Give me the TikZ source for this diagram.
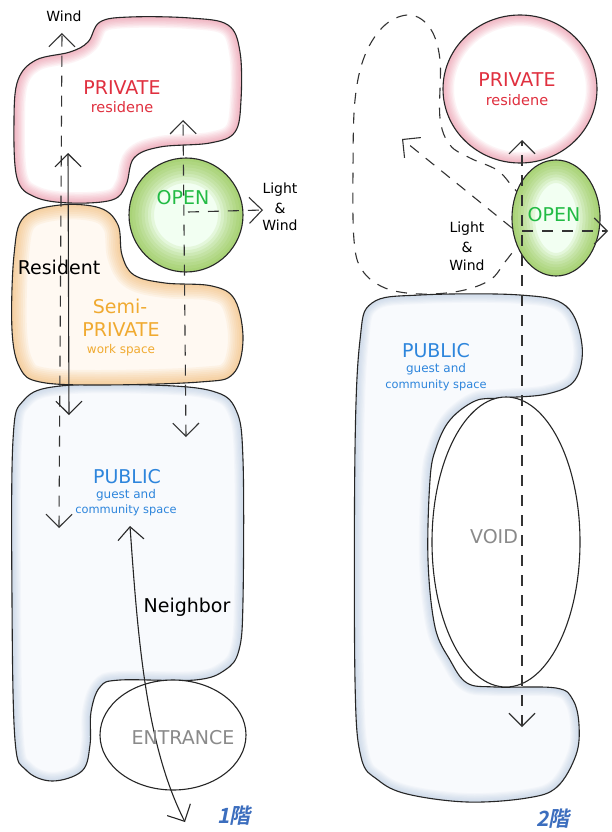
\documentclass[tikz,border=0pt]{standalone}
\usepackage{fontspec}
\setmainfont{DejaVu Sans}
\newfontfamily\jpfont[FakeSlant=0.2,BoldFont={Noto Sans CJK JP Bold}]{Noto Sans CJK JP}
\usetikzlibrary{arrows.meta}

\definecolor{privred}{HTML}{E0303F}
\definecolor{opengreen}{HTML}{22BB44}
\definecolor{semiorange}{HTML}{F0AA30}
\definecolor{pubblue}{HTML}{2D85DC}
\definecolor{voidgray}{HTML}{8A8A8A}
\definecolor{floorblue}{HTML}{3C6EBE}
\definecolor{washpink}{HTML}{E8708A}
\definecolor{washorange}{HTML}{F0B060}
\definecolor{washgreen}{HTML}{84BE38}
\definecolor{washblue}{HTML}{A4BCD8}
\definecolor{paleblue}{HTML}{F8FAFD}

\tikzset{
  outline/.style={draw=black!85, line width=1.1pt, line cap=round, line join=round},
  windline/.style={draw=black!80, line width=1.1pt, dash pattern=on 11pt off 9pt},
  flow/.style={draw=black!85, line width=1.1pt},
  >={Straight Barb[length=13pt,width=26pt]},
  big/.style={font=\fontsize{19}{22}\selectfont, inner sep=0pt},
  mid/.style={font=\fontsize{14.5}{17}\selectfont, inner sep=0pt},
  small/.style={font=\fontsize{12}{14}\selectfont, inner sep=0pt},
  note/.style={font=\fontsize{14}{17}\selectfont, inner sep=0pt},
  floor/.style={font=\jpfont\bfseries\fontsize{21}{24}\selectfont, text=floorblue, inner sep=0pt}
}

% watercolour blob: #1 interior, #2 wash colour, #3 wash width, #4 layer opacity, #5 outline points
\newcommand\washblob[5]{%
  \fill[#1] plot[smooth cycle,tension=.6] coordinates {#5};
  \begin{scope}
    \clip plot[smooth cycle,tension=.6] coordinates {#5};
    \foreach \k in {1,...,8}{
      \draw[#2,line width={#3*\k/8*1pt},opacity=#4] plot[smooth cycle,tension=.6] coordinates {#5};}
  \end{scope}
  \draw[outline] plot[smooth cycle,tension=.6] coordinates {#5};}

% watercolour ellipse: #1 interior, #2 wash colour, #3 wash width, #4 layer opacity, #5 centre, #6 x radius, #7 y radius
\newcommand\washell[7]{%
  \fill[#1] #5 ellipse [x radius=#6pt, y radius=#7pt];
  \begin{scope}
    \clip #5 ellipse [x radius=#6pt, y radius=#7pt];
    \foreach \k in {1,...,8}{
      \draw[#2,line width={#3*\k/8*1pt},opacity=#4] #5 ellipse [x radius=#6pt, y radius=#7pt];}
  \end{scope}
  \draw[outline] #5 ellipse [x radius=#6pt, y radius=#7pt];}

\begin{document}
\begin{tikzpicture}[x=1pt,y=-1pt]
\useasboundingbox (0,0) rectangle (612,832);
\fill[white] (0,0) rectangle (612,832);

\begin{scope}
\clip (0,0) rectangle (612,832);

% ---------------- ground floor ----------------
% public area
\washblob{paleblue}{washblue}{18}{.07}{(60,386) (150,385) (212,391) (236,410) (243,460) (243,600) (239,650) (225,670) (195,680) (120,680) (100,687) (91,712) (90,745) (82,771) (52,781) (26,770) (15,740) (12,600) (13,440) (24,400)}
% entrance
\draw[outline, fill=white] (173,735) ellipse [x radius=73pt, y radius=55pt];
% semi-private work space
\washblob{orange!5}{washorange}{30}{.09}{(12,330) (14,255) (24,217) (60,205) (100,208) (118,225) (122,255) (134,275) (165,283) (212,286) (235,300) (243,340) (233,374) (200,382) (100,385) (40,382) (20,368)}
% private residence
\washblob{white}{washpink}{22}{.08}{(14,120) (18,80) (36,60) (70,52) (88,42) (100,22) (130,17) (190,18) (228,25) (240,52) (241,100) (235,132) (210,143) (160,147) (134,158) (126,185) (112,200) (70,203) (35,197) (17,178)}
% open court
\washell{green!5}{washgreen}{50}{.12}{(186,215)}{57}{57}

% ground floor connectors
\coordinate (windTop) at (62,33);
\coordinate (windBot) at (59,528);
\coordinate (resTop) at (68,153);
\coordinate (resBot) at (69,415);
\coordinate (openTop) at (183,120);
\coordinate (openBot) at (186,437);
\coordinate (openMid) at (188,212);
\coordinate (openOut) at (263,210);
\coordinate (nbTop) at (130,526);
\coordinate (nbBot) at (185,822);

\draw[windline,<->] (windBot) -- (windTop);
\draw[flow,<->] (resBot) -- (resTop);
\draw[windline,<->] (openBot) -- (openTop);
\draw[windline,->] (openMid) -- (openOut);
\draw[flow,<->] (nbTop) .. controls (138,640) and (146,745) .. (nbBot);

% ground floor labels
\node[note] (wind1) at (64,16) {Wind};
\node[big, text=privred] (priv1) at (122,88) {PRIVATE};
\node[mid, text=privred] (res1) at (122,107) {residene};
\node[big, text=opengreen] (open1) at (183,198) {OPEN};
\node[note] (lw1a) at (280,190) {Light};
\node[note] (lw1b) at (280,208) {\&};
\node[note] (lw1c) at (280,225) {Wind};
\node[big] (resident) at (59,267) {Resident};
\node[big, text=semiorange] (semi1) at (120,306) {Semi-};
\node[big, text=semiorange] (semi2) at (121,330) {PRIVATE};
\node[small, text=semiorange] (semi3) at (121,350) {work space};
\node[big, text=pubblue] (pub1) at (127,477) {PUBLIC};
\node[small, text=pubblue] (pub1a) at (126,495) {guest and};
\node[small, text=pubblue, font=\fontsize{11.4}{14}\selectfont] (pub1b) at (126,510) {community space};
\node[big] (neighbor) at (187,607) {Neighbor};
\node[big, text=voidgray] (entr) at (183,738) {ENTRANCE};
\node[floor] (fl1) at (234,816) {1階};

% ---------------- upper floor ----------------
% public area
\washblob{paleblue}{washblue}{18}{.07}{(372,303) (420,295) (520,295) (566,306) (582,345) (575,380) (547,394) (500,398) (475,401) (450,420) (436,448) (430,480) (428,560) (435,627) (450,660) (467,683) (495,687) (556,688) (573,700) (579,725) (576,755) (557,787) (527,798) (467,802) (407,794) (378,780) (361,757) (355,680) (355,450) (360,340)}
% void
\draw[outline, fill=white] (506,542) ellipse [x radius=74pt, y radius=145pt];
% dashed loop of air
\draw[windline] plot[smooth,tension=.6] coordinates {(522,198) (512,186) (497,170) (470,158) (450,145) (440,118) (440,60) (430,28) (410,15) (385,25) (365,55) (355,100) (353,170) (354,240) (362,270) (385,288) (420,294) (460,291) (490,280) (505,262) (518,245)};
% private residence
\washell{white}{washpink}{22}{.08}{(520,89)}{77}{74}
% open court
\washell{green!5}{washgreen}{46}{.12}{(556,218)}{44}{58}

% upper floor connectors
\coordinate (upTop) at (522,140);
\coordinate (upBot) at (522,727);
\coordinate (upMid) at (522,231);
\coordinate (upOut) at (608,231);
\coordinate (diagFrom) at (512,228);
\coordinate (diagTo) at (402,139);

\draw[windline,<->] (upBot) -- (upTop);
\draw[windline,->] (upMid) -- (upOut);
\draw[windline,->] (diagFrom) -- (diagTo);

% upper floor labels
\node[big, text=privred] (priv2) at (517,80) {PRIVATE};
\node[mid, text=privred] (res2) at (517,100) {residene};
\node[big, text=opengreen] (open2) at (554,215) {OPEN};
\node[note] (lw2a) at (467,229) {Light};
\node[note] (lw2b) at (467,247) {\&};
\node[note] (lw2c) at (467,265) {Wind};
\node[big, text=pubblue] (pub2) at (436,351) {PUBLIC};
\node[small, text=pubblue] (pub2a) at (436,369) {guest and};
\node[small, text=pubblue, font=\fontsize{11.4}{14}\selectfont] (pub2b) at (436,385) {community space};
\node[big, text=voidgray] (void) at (494,537) {VOID};
\node[floor] (fl2) at (553,819) {2階};
\end{scope}
\end{tikzpicture}
\end{document}
